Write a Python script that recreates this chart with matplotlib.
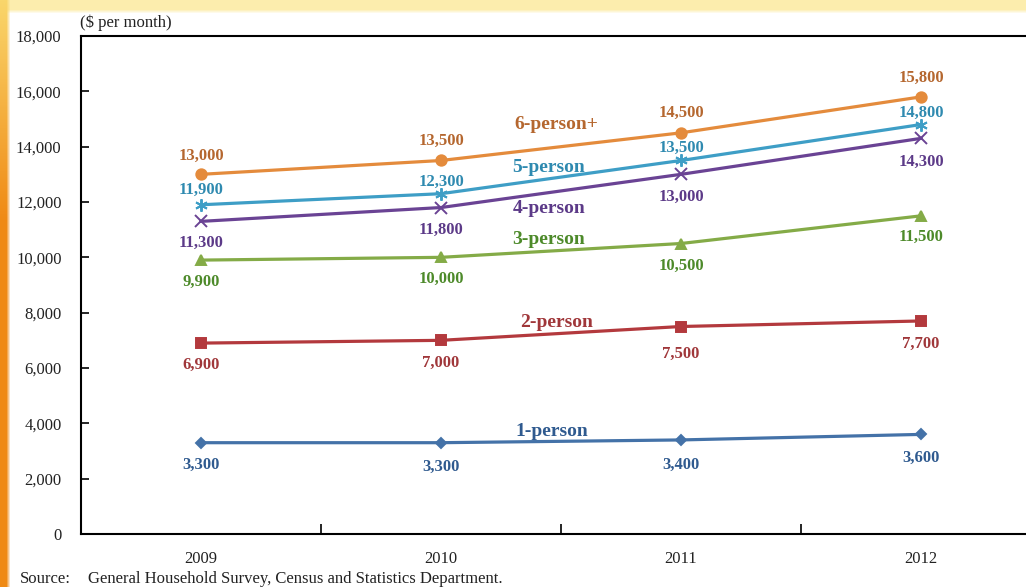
import numpy as np
import matplotlib
matplotlib.use("Agg")
import matplotlib.pyplot as plt
from matplotlib.ticker import FixedLocator, FuncFormatter

# data ($ per month)
years = ["2009", "2010", "2011", "2012"]
six_plus = [13000, 13500, 14500, 15800]
five = [11900, 12300, 13500, 14800]
four = [11300, 11800, 13000, 14300]
three = [9900, 10000, 10500, 11500]
two = [6900, 7000, 7500, 7700]
one = [3300, 3300, 3400, 3600]
series_names = ["6-person+", "5-person", "4-person", "3-person", "2-person", "1-person"]
y_ticks = [0, 2000, 4000, 6000, 8000, 10000, 12000, 14000, 16000, 18000]

# styling per series: line colour, text colour, marker, marker size
styles = [
    ("#E48B3C", "#B5672F", "o", 7.5),
    ("#3E9EC6", "#2F8AB0", (6, 2, 0), 9),
    ("#6A4394", "#5C3A88", "x", 8),
    ("#84AB47", "#4D8A2A", "^", 7),
    ("#B3393D", "#A0373A", "s", 6.5),
    ("#4472A8", "#2F5A8F", "D", 5.5),
]
# pixel offsets of value labels from their points (+ = above)
label_offsets = [
    [18, 20, 20, 19],
    [15, 12, 13, 12],
    [-22, -22, -23, -24],
    [-22, -22, -22, -21],
    [-22, -23, -27, -23],
    [-22, -24, -25, -23],
]
# where the series names sit (x in category units, y in $)
name_pos = [(1.48, 14790), (1.45, 13230), (1.45, 11780),
            (1.45, 10630), (1.48, 7630), (1.46, 3690)]

W, H = 1026, 587
fig = plt.figure(figsize=(W / 100, H / 100), dpi=100)
fig.patch.set_facecolor("white")

# orange / yellow frame on the left and top edges
img = np.ones((H, W, 3))
rows = np.arange(H)[:, None]
cols = np.arange(W)[None, :]
t = np.clip(rows / 220.0, 0, 1)
left_col = np.stack([0.98 - 0.04 * t + 0 * cols, 0.84 - 0.30 * t + 0 * cols,
                     0.42 - 0.34 * t + 0 * cols], axis=-1)
left_alpha = np.clip((10 - cols) / 4.0, 0, 1)[..., None] + 0 * rows[..., None]
top_col = np.array([0.99, 0.93, 0.68])
top_alpha = np.clip((13 - rows) / 4.0, 0, 1)[..., None] + 0 * cols[..., None]
img = img * (1 - top_alpha) + top_col * top_alpha
img = img * (1 - left_alpha) + left_col * left_alpha
fig.figimage(img, xo=0, yo=0, origin="upper", zorder=-5)

ax = fig.add_axes([81 / W, 53 / H, 960 / W, 498 / H])
ax.set_facecolor("white")
x = np.arange(len(years))
all_series = [six_plus, five, four, three, two, one]

for vals, (lc, tc, mk, ms), offs, name, npos in zip(all_series, styles, label_offsets,
                                                    series_names, name_pos):
    ax.plot(x, vals, color=lc, lw=2.3, marker=mk, ms=ms, mec=lc, mfc=lc, mew=1.4,
            zorder=3)
    for xi, v, dy in zip(x, vals, offs):
        ax.annotate(f"{v:,}", (xi, v), xytext=(0, dy), textcoords="offset pixels",
                    ha="center", va="center", color=tc, fontsize=12,
                    fontweight="bold", family="Liberation Serif")
    ax.text(npos[0], npos[1], name, ha="center", va="center", color=tc,
            fontsize=14, fontweight="bold", family="Liberation Serif")

ax.set_xlim(-0.5, 3.5)
ax.set_ylim(0, 18000)
ax.set_yticks(y_ticks)
ax.yaxis.set_major_formatter(FuncFormatter(lambda v, p: f"{int(v):,}"))
ax.set_xticks(x)
ax.set_xticklabels(years)
ax.xaxis.set_minor_locator(FixedLocator([0.5, 1.5, 2.5]))
ax.tick_params(axis="x", which="major", length=0, pad=12)
ax.tick_params(axis="x", which="minor", direction="in", length=7, width=1.2)
ax.tick_params(axis="y", direction="in", length=6, width=1.2, pad=14, right=False)
for lab in ax.get_xticklabels() + ax.get_yticklabels():
    lab.set_family("Liberation Serif")
    lab.set_fontsize(12)
    lab.set_color("#222222")

for side in ["left", "top", "bottom"]:
    ax.spines[side].set_linewidth(1.5)
    ax.spines[side].set_color("black")
ax.spines["right"].set_visible(False)

fig.text(80 / W, 1 - 23 / H, "($ per month)", ha="left", va="center",
         fontsize=12, family="Liberation Serif", color="#222222")
fig.text(20 / W, 1 - 579 / H, "Source:", ha="left", va="center",
         fontsize=12, family="Liberation Serif", color="#222222")
fig.text(88 / W, 1 - 579 / H, "General Household Survey, Census and Statistics Department.",
         ha="left", va="center", fontsize=12, family="Liberation Serif", color="#222222")

fig.savefig("out.png", dpi=100)
